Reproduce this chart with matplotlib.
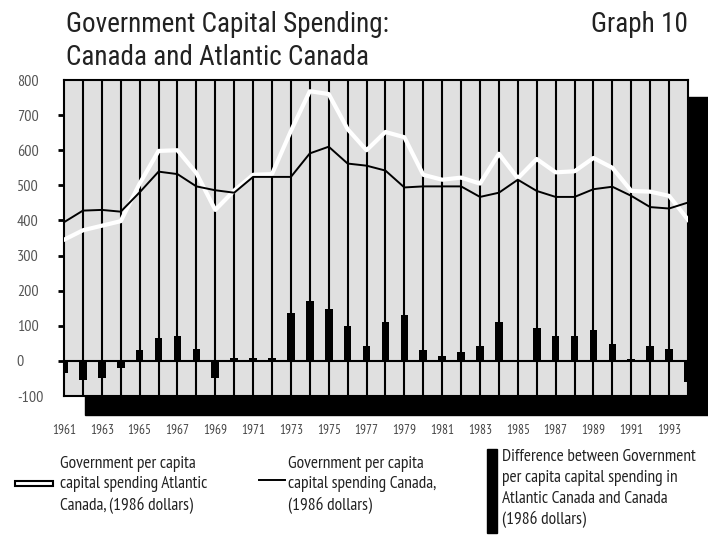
import matplotlib
matplotlib.use("Agg")
import matplotlib.pyplot as plt
from matplotlib.patches import Rectangle
from matplotlib.lines import Line2D

# data (1986 dollars per capita)
years = list(range(1961, 1995))
canada = [395, 428, 430, 425, 480, 539, 532, 497, 486, 479, 524, 524, 524, 591,
          610, 562, 556, 542, 494, 497, 497, 497, 467, 479, 516, 484, 467, 467,
          489, 496, 470, 438, 434, 451]
atlantic = [345, 372, 385, 398, 505, 598, 600, 535, 430, 485, 530, 532, 655, 768,
            760, 660, 600, 652, 637, 530, 516, 522, 505, 590, 520, 575, 537, 540,
            578, 550, 484, 482, 470, 402]
difference = [-35, -55, -50, -20, 30, 65, 72, 35, -50, 7, 7, 7, 136, 170, 147,
              100, 42, 112, 131, 31, 13, 25, 42, 112, -3, 93, 71, 71, 89, 49, 5,
              42, 35, -60]
year_labels = [str(y) for y in range(1961, 1994, 2)]
y_values = list(range(-100, 801, 100))

title = "Government Capital Spending:\nCanada and Atlantic Canada"
graph_no = "Graph 10"
legend_atlantic = "Government per capita\ncapital spending Atlantic\nCanada, (1986 dollars)"
legend_canada = "Government per capita\ncapital spending Canada,\n(1986 dollars)"
legend_diff = ("Difference between Government\nper capita capital spending in\n"
               "Atlantic Canada and Canada\n(1986 dollars)")

W, H = 708, 539
TITLE_FONT = ["Roboto Condensed", "DejaVu Sans"]
SMALL_FONT = ["PT Sans Narrow", "DejaVu Sans"]


def fx(px):
    return px / W


def fy(py):
    return 1 - py / H


def main():
    plt.rcParams["font.family"] = SMALL_FONT
    fig = plt.figure(figsize=(W / 100, H / 100), dpi=100)
    ax = fig.add_axes([fx(64), fy(396), fx(688) - fx(64), fy(80) - fy(396)])
    ax.set_facecolor("#e0e0e0")

    # drop shadow behind the plot box
    fig.patches.append(Rectangle((fx(85), fy(415)), fx(708) - fx(85), fy(97) - fy(415),
                                 transform=fig.transFigure, color="black", zorder=-1))

    ax.set_xlim(1961, 1994)
    ax.set_ylim(-100, 800)

    ax.vlines(years[1:-1], -100, 800, color="black", lw=1.5, zorder=1)
    ax.bar(years, difference, width=0.4, color="black", zorder=3)
    ax.axhline(0, color="black", lw=1.5, zorder=2)
    ax.plot(years, atlantic, color="white", lw=3, zorder=4)
    ax.plot(years, canada, color="black", lw=1.4, zorder=5)

    for s in ax.spines.values():
        s.set_linewidth(1.5)

    ax.set_yticks(y_values, labels=[str(v) for v in y_values])
    ax.tick_params(axis="y", length=4.5, width=2, pad=29.5, labelsize=11.5,
                   labelcolor="#555555")
    for lab in ax.get_yticklabels():
        lab.set_horizontalalignment("left")
    for t in ax.yaxis.get_major_ticks():
        if t.get_loc() in (-100, 800):
            t.tick1line.set_visible(False)

    ax.set_xticks(range(1961, 1994, 2), labels=year_labels)
    ax.tick_params(axis="x", length=0, pad=20, labelsize=9.5, labelcolor="#444444")

    fig.text(fx(66), fy(11), title, fontsize=19.5, color="#222222", va="top",
             linespacing=1.28, family=TITLE_FONT)
    fig.text(fx(688), fy(11), graph_no, fontsize=19.5, color="#222222", va="top",
             ha="right", family=TITLE_FONT)

    # legend
    fig.patches.append(Rectangle((fx(15), fy(486)), fx(53) - fx(15), fy(481) - fy(486),
                                 transform=fig.transFigure, facecolor="white",
                                 edgecolor="black", lw=1.5))
    fig.text(fx(60), fy(485), legend_atlantic, fontsize=12.5, color="#222222",
             va="center", linespacing=1.38)
    fig.lines.append(Line2D([fx(259), fx(285)], [fy(480), fy(480)],
                            transform=fig.transFigure, color="black", lw=1.4))
    fig.text(fx(288), fy(485), legend_canada, fontsize=12.5, color="#222222",
             va="center", linespacing=1.38)
    fig.patches.append(Rectangle((fx(487), fy(533)), fx(497) - fx(487), fy(449) - fy(533),
                                 transform=fig.transFigure, color="black"))
    fig.text(fx(502), fy(489), legend_diff, fontsize=12.5, color="#222222",
             va="center", linespacing=1.38)

    fig.savefig("out.png", dpi=100)
    plt.close(fig)


if __name__ == "__main__":
    main()
